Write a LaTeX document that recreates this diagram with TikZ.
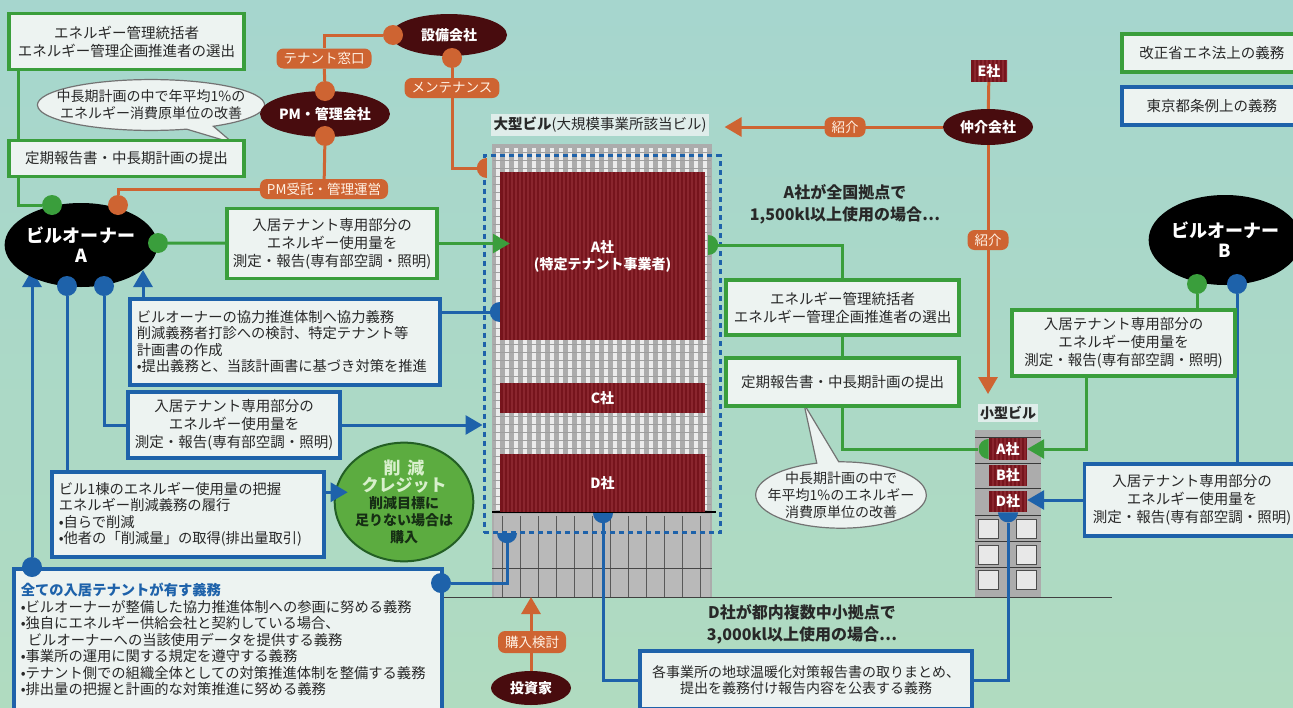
\documentclass[tikz,border=0pt]{standalone}
\usepackage{fontspec}
\setmainfont{Noto Sans CJK JP}
\usetikzlibrary{arrows.meta, positioning, shapes.geometric, shapes.callouts, calc}

\definecolor{mintbg}{RGB}{166,214,206}
\definecolor{mintlow}{RGB}{176,219,192}
\definecolor{lawgreen}{RGB}{58,158,60}
\definecolor{cityblue}{RGB}{30,98,170}
\definecolor{linkorange}{RGB}{206,100,50}
\definecolor{firmbrown}{RGB}{72,12,14}
\definecolor{paper}{RGB}{237,243,241}
\definecolor{floorred}{RGB}{118,20,28}
\definecolor{ribred}{RGB}{138,38,46}
\definecolor{wallgray}{RGB}{172,172,172}
\definecolor{ink}{RGB}{40,40,40}
\definecolor{creditgreen}{RGB}{92,172,64}
\definecolor{creditpale}{RGB}{216,240,204}
\definecolor{creditink}{RGB}{22,46,20}

\pgfdeclarelayer{base}
\pgfdeclarelayer{wires}
\pgfsetlayers{base,wires,main}

\begin{document}
\begin{tikzpicture}[x=1pt, y=-1pt,
  every node/.style={font=\fontsize{14.5}{18}\selectfont, text=ink},
  gbox/.style={draw=lawgreen, line width=3.5pt, fill=paper, align=center, inner sep=2pt},
  bbox/.style={draw=cityblue, line width=3.5pt, fill=paper, align=center, inner sep=2pt},
  note/.style={bbox, align=left, anchor=north west, inner xsep=7pt, inner ysep=4pt,
               font=\fontsize{14.3}{16.5}\selectfont},
  owner/.style={ellipse, fill=black, text=white, inner sep=0pt, align=center,
                font=\fontsize{18}{20}\selectfont\bfseries},
  firm/.style={ellipse, fill=firmbrown, text=white, inner sep=0pt,
               font=\fontsize{14}{16}\selectfont\bfseries},
  tag/.style={fill=linkorange, rounded corners=7pt, text=white!90!orange, inner xsep=7pt,
              inner ysep=0pt, minimum height=20pt, font=\fontsize{13.5}{14}\selectfont},
  floor/.style={fill=floorred, text=white, inner sep=0pt, align=center,
                font=\fontsize{14}{17}\selectfont\bfseries,
                path picture={\foreach \i in {1,...,55}
                  \draw[ribred, line width=1.2pt]
                    ($(path picture bounding box.north west)+(\i*4,0)$) --
                    ($(path picture bounding box.south west)+(\i*4,0)$);}},
  bubble/.style={ellipse callout, draw=black!55, line width=1.2pt, fill=paper,
                 align=center, font=\fontsize{14}{17}\selectfont},
  knob/.style={circle, inner sep=0pt, minimum size=20pt},
  gdot/.style={knob, fill=lawgreen},
  bdot/.style={knob, fill=cityblue},
  odot/.style={knob, fill=linkorange},
  halfdot/.style={semicircle, inner sep=0pt, minimum width=20pt, minimum height=10pt,
                  anchor=chord center},
  gline/.style={lawgreen, line width=3pt},
  bline/.style={cityblue, line width=3pt},
  oline/.style={linkorange, line width=3pt},
  arr/.style={-{Triangle[length=17pt, width=19pt]}},
  heading/.style={font=\fontsize{16}{22}\selectfont\bfseries, align=center}
]
  \useasboundingbox (0,0) rectangle (1293,707);

  \begin{pgfonlayer}{base}
    \fill[top color=mintbg, bottom color=mintlow] (0,0) rectangle (1293,707);
    % large building facade
    \fill[wallgray] (492,144) rectangle (712,597);
    \foreach \x in {498,507,...,708}
      \draw[white!85!gray, line width=3.4pt] (\x,148) -- (\x,510);
    \foreach \y in {152,160,...,508}
      \draw[gray!75, line width=0.6pt] (493,\y) -- (711,\y);
    \fill[gray!55] (494,514) rectangle (710,597);
    \foreach \x in {502,520,...,710}
      \draw[gray!70!black, line width=0.6pt] (\x,516) -- (\x,597);
    \draw[gray!55!black, line width=0.8pt] (492,568) -- (712,568);
    \draw[black, line width=1.2pt] (492,512) -- (716,512);
    % small building facade
    \fill[wallgray] (975,430) rectangle (1041,597);
    \foreach \y in {437,463,488,515,541,567}
      \draw[gray!45!black, line width=0.7pt] (975,\y) -- (1041,\y);
    \foreach \y in {519,545,570} {
      \draw[black!70, fill=white!82!gray, line width=0.6pt] (978,\y) rectangle ++(20,19);
      \draw[black!70, fill=white!82!gray, line width=0.6pt] (1016,\y) rectangle ++(20,19);
    }
    \draw[black!75, line width=1pt] (440,597) -- (1112,597);
    % site boundary of the large building
    \node[draw=cityblue, line width=3pt, dash pattern=on 5pt off 4pt, inner sep=0pt,
          minimum width=236pt, minimum height=377pt] (site) at (602,344) {};
  \end{pgfonlayer}

  % floors of both buildings
  \node[floor, minimum width=205pt, minimum height=168pt] (aBig) at (602.5,256) {A社\\(特定テナント事業者)};
  \node[floor, minimum width=205pt, minimum height=30pt] (cBig) at (602.5,398) {C社};
  \node[floor, minimum width=205pt, minimum height=58pt] (dBig) at (602.5,483) {D社};
  \node[fill=paper!80!mintbg, inner sep=3pt] (bigName) at (600,125) {\textbf{大型ビル}(大規模事業所該当ビル)};
  \node[floor, minimum width=38pt, minimum height=22pt] (aSmall) at (1008,449) {A社};
  \node[floor, minimum width=38pt, minimum height=21pt] (bSmall) at (1008,475.5) {B社};
  \node[floor, minimum width=38pt, minimum height=21pt] (dSmall) at (1008,501.5) {D社};
  \node[fill=paper!80!mintbg, inner sep=2pt, font=\fontsize{14}{16}\selectfont\bfseries] (smallName) at (1008,413) {小型ビル};
  \coordinate (bigFoot) at (602,597);

  % building owner A
  \node[owner, minimum width=152pt, minimum height=84pt] (ownA) at (81,245) {ビルオーナー\\A};
  \node[gdot] (ownAg) at (52,205) {};
  \node[odot] (ownAo) at (118,205) {};
  \node[gdot] (ownAr) at (158,243) {};
  \node[bdot] (ownAb1) at (67,286) {};
  \node[bdot] (ownAb2) at (104,286) {};
  \coordinate (ownAin1) at (32,270);
  \coordinate (ownAin2) at (143,270);

  % energy law duties, left
  \node[bubble, inner xsep=-14pt, inner ysep=3pt, callout absolute pointer={(233,143)}] (noteA) at (151,105)
    {中長期計画の中で年平均1\%の\\エネルギー消費原単位の改善};
  \node[gbox, minimum width=235pt, minimum height=56pt] (selA) at (126.5,41.5)
    {エネルギー管理統括者\\エネルギー管理企画推進者の選出};
  \node[gbox, minimum width=235pt, minimum height=36pt] (repA) at (126.5,158.5) {定期報告書・中長期計画の提出};
  \node[gbox, minimum width=210pt, minimum height=70pt] (measA) at (332,243.5)
    {入居テナント専用部分の\\エネルギー使用量を\\測定・報告(専有部空調・照明)};

  % Tokyo ordinance duties, left
  \node[note, text width=296pt, minimum height=86pt] (coop) at (128,297)
    {ビルオーナーの協力推進体制へ協力義務\\削減義務者打診への検討、特定テナント等\\計画書の作成\\•提出義務と、当該計画書に基づき対策を推進};
  \node[bbox, minimum width=212pt, minimum height=66pt] (measAb) at (234,425)
    {入居テナント専用部分の\\エネルギー使用量を\\測定・報告(専有部空調・照明)};
  \node[note, text width=258pt, minimum height=85pt] (whole) at (50,470)
    {ビル1棟のエネルギー使用量の把握\\エネルギー削減義務の履行\\•自らで削減\\•他者の「削減量」の取得(排出量取引)};
  \node[ellipse, fill=creditgreen, draw=lawgreen!60!black, line width=2pt, minimum width=132pt,
        minimum height=114pt, inner sep=0pt, align=center, text=creditink,
        font=\fontsize{14}{17}\selectfont\bfseries] (credit) at (404,502)
    {\textcolor{creditpale}{\fontsize{17}{19}\selectfont 削\hspace{0.4em}減}\\
     \textcolor{creditpale}{\fontsize{17}{19}\selectfont クレジット}\\
     削減目標に\\足りない場合は\\購入};
  \draw[bline, arr] ($(whole.east)+(0,-22)$) -- ($(whole.east -| credit.west)+(14,-22)$);
  \node[note, text width=414pt, minimum height=142pt] (duties) at (12,567)
    {\textcolor{cityblue}{\bfseries 全ての入居テナントが有す義務}\\
     •ビルオーナーが整備した協力推進体制への参画に努める義務\\
     •独自にエネルギー供給会社と契約している場合、\\
     \hspace{0.5em}ビルオーナーへの当該使用データを提供する義務\\
     •事業所の運用に関する規定を遵守する義務\\
     •テナント側での組織全体としての対策推進体制を整備する義務\\
     •排出量の把握と計画的な対策推進に努める義務};
  \node[bdot] (allTL) at (32,567) {};
  \node[bdot] (allR) at (441,583) {};

  % management and maintenance firms
  \node[firm, minimum width=116pt, minimum height=42pt] (equip) at (449,35) {設備会社};
  \node[odot] (equipL) at (393,35) {};
  \node[odot] (equipB) at (452,58) {};
  \node[tag] (tagDesk) at (324,58.5) {テナント窓口};
  \node[firm, minimum width=110pt, minimum height=46pt] (pm) at (325,114) {PM・管理会社};
  \node[odot] (pmT) at (325,91) {};
  \node[odot] (pmB) at (325,136) {};
  \node[tag] (tagMaint) at (452,88) {メンテナンス};
  \node[tag] (tagPM) at (324,189) {PM受託・管理運営};

  % broker and investor
  \node[floor, minimum width=36pt, minimum height=22pt] (eCo) at (989,71) {E社};
  \node[firm, minimum width=90pt, minimum height=36pt] (broker) at (988,127) {仲介会社};
  \node[tag] (tagRefer) at (845,127) {紹介};
  \node[tag] (tagReferDown) at (988,240) {紹介};
  \node[firm, minimum width=80pt, minimum height=34pt] (investor) at (531,688) {投資家};
  \node[tag, minimum height=22pt] (tagBuy) at (532,642) {購入検討};

  % right side
  \node[heading] (caseA) at (845,204) {A社が全国拠点で\\1,500kl以上使用の場合…};
  \node[heading] (caseD) at (802,624) {D社が都内複数中小拠点で\\3,000kl以上使用の場合…};
  \node[bubble, inner xsep=-13pt, inner ysep=0pt, callout absolute pointer={(804,404)}] (noteB) at (841,495)
    {中長期計画の中で\\年平均1\%のエネルギー\\消費原単位の改善};
  \node[gbox, minimum width=233pt, minimum height=55pt] (selB) at (842.5,307.5)
    {エネルギー管理統括者\\エネルギー管理企画推進者の選出};
  \node[gbox, minimum width=233pt, minimum height=48pt] (repB) at (842.5,382) {定期報告書・中長期計画の提出};
  \node[bbox, minimum width=332pt, minimum height=58pt, font=\fontsize{14}{16}\selectfont] (repD) at (806,680)
    {各事業所の地球温暖化対策報告書の取りまとめ、\\提出を義務付け報告内容を公表する義務};

  \node[owner, minimum width=140pt, minimum height=90pt] (ownB) at (1225,240) {ビルオーナー\\B};
  \node[gdot] (ownBg) at (1197,284) {};
  \node[bdot] (ownBb) at (1237,284) {};
  \node[gbox, minimum width=223pt, minimum height=66pt] (measB) at (1123.5,343)
    {入居テナント専用部分の\\エネルギー使用量を\\測定・報告(専有部空調・照明)};
  \node[bbox, minimum width=215pt, minimum height=72pt] (measBb) at (1192,500)
    {入居テナント専用部分の\\エネルギー使用量を\\測定・報告(専有部空調・照明)};

  % legend
  \node[gbox, minimum width=180pt, minimum height=38pt, anchor=west] (legLaw) at (1120,53) {改正省エネ法上の義務};
  \node[bbox, minimum width=180pt, minimum height=38pt, anchor=west] (legCity) at (1120,106) {東京都条例上の義務};

  % contact points on the buildings
  \node[halfdot, fill=lawgreen, shape border rotate=270] (aOut) at (708,245) {};
  \node[halfdot, fill=cityblue, shape border rotate=90] (coopIn) at (500,312) {};
  \node[halfdot, fill=cityblue, shape border rotate=180] (dOut) at (603,513) {};
  \node[halfdot, fill=cityblue, shape border rotate=180] (allIn) at (507,533) {};
  \node[halfdot, fill=linkorange, shape border rotate=90] (maintIn) at (487,168) {};
  \node[halfdot, fill=lawgreen, shape border rotate=90] (aIn) at (aSmall.west) {};
  \node[halfdot, fill=cityblue, shape border rotate=180] (dsOut) at (dSmall.south) {};
  \draw[gline, arr] (measA.east) -- ($(measA -| aBig.west)+(10,0)$);

  \begin{pgfonlayer}{wires}
    % green: energy law
    \draw[gline] ([xshift=11pt]selA.south west) -- ([xshift=11pt]repA.north west);
    \draw[gline] ([xshift=11pt]repA.south west) |- (ownAg);
    \draw[gline] (ownAr) -- (measA);
    \draw[gline] (aOut) -| (selB);
    \draw[gline] (selB) -- (repB);
    \draw[gline] (repB) |- (aIn);
    \draw[gline] (ownBg) -- (ownBg |- measB.north);
    \draw[gline, arr] ([xshift=-37pt]measB.south) |- (aSmall.east);
    % blue: Tokyo ordinance
    \draw[bline, arr] (allTL) -- (ownAin1);
    \draw[bline] (ownAb1) -- (ownAb1 |- whole.north);
    \draw[bline] (ownAb2) |- (measAb);
    \draw[bline, arr] (coop.north west -| ownAin2) -- (ownAin2);
    \draw[bline] (coop.east |- coopIn) -- (coopIn);
    \draw[bline, arr] (measAb) -- (measAb -| site.west);
    \draw[bline] (allR) -| (allIn);
    \draw[bline] (dOut) |- (repD);
    \draw[bline] (dsOut) |- (repD);
    \draw[bline] (ownBb) -- (ownBb |- measBb.north);
    \draw[bline, arr] (measBb) -- (measBb -| dSmall.east);
    % orange: business relations
    \draw[oline] (equipL) -| (tagDesk);
    \draw[oline] (tagDesk) -- (pmT);
    \draw[oline] (pmB) -- (tagPM);
    \draw[oline] (tagPM) -| (ownAo);
    \draw[oline] (equipB) -- (tagMaint);
    \draw[oline] (tagMaint) |- (maintIn);
    \draw[oline] (eCo) -- (broker);
    \draw[oline, arr, shorten >=15pt] (broker) -- (broker -| bigName.east);
    \draw[oline, arr, shorten >=10pt] (broker) -- (broker |- smallName.north);
    \draw[oline, arr] (investor) -- (investor |- bigFoot);
  \end{pgfonlayer}
\end{tikzpicture}
\end{document}
